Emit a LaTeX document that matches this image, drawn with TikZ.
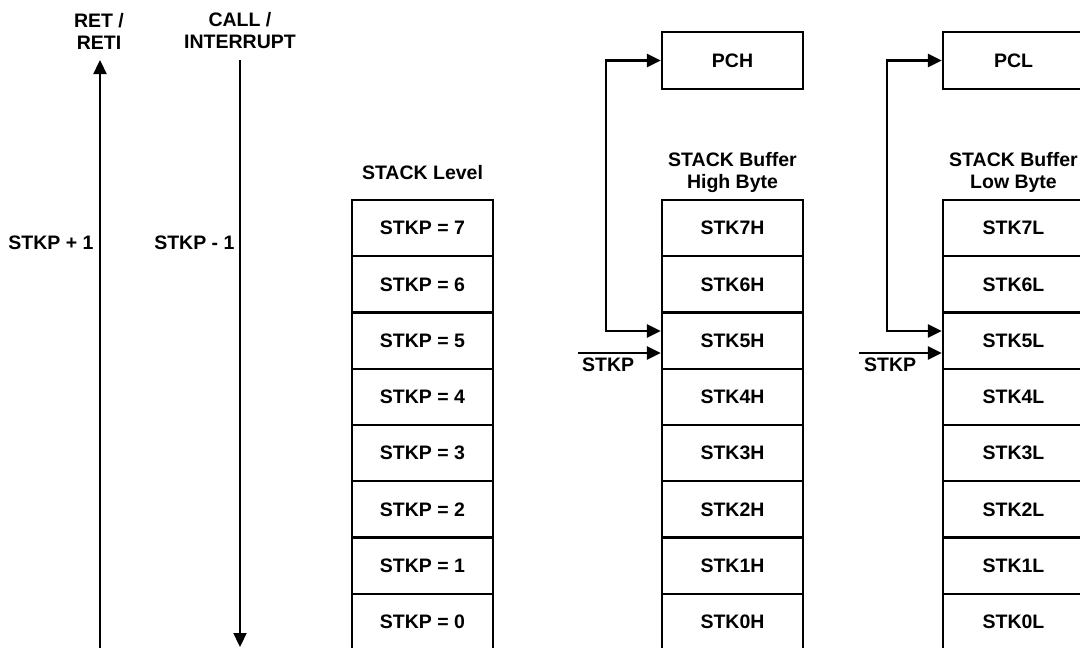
\documentclass[tikz,border=0pt]{standalone}
\usepackage{fontspec}
\setmainfont{Liberation Sans}
\usetikzlibrary{positioning, calc, arrows.meta}

\tikzset{
  cell/.style={draw, line width=2.3pt, minimum width=141pt, minimum height=56.25pt, inner sep=0pt},
  title/.style={align=center},
  tip/.style={line width=2.3pt, -{Triangle[length=14pt, width=13pt]}},
  tips/.style={line width=2.3pt, {Triangle[length=14pt, width=13pt]}-{Triangle[length=14pt, width=13pt]}},
}

\begin{document}
\begin{tikzpicture}[x=1pt, y=-1pt, font=\fontsize{19.5}{22}\selectfont\bfseries]

\useasboundingbox (0, 0) rectangle (1080, 648);
\clip (0, 0) rectangle (1080, 648);

% pop / push direction
\node[title] (retlbl) at (99, 31) {RET /\\RETI};
\node[title] (calllbl) at (240, 31) {CALL /\\INTERRUPT};
\coordinate (retbot) at (100, 660);
\coordinate (rettop) at (100, 60);
\coordinate (calltop) at (240, 60);
\coordinate (callbot) at (240, 647);
\draw [tip] (retbot) -- (rettop);
\draw [tip] (calltop) -- (callbot);
\node[anchor=east] (inc) at (97, 243) {STKP + 1};
\node[anchor=east] (dec) at (238, 243) {STKP - 1};

% columns
\node[title] (lvtitle) at (422.5, 173) {STACK Level};
\node[title] (hititle) at (732.5, 172) {STACK Buffer\\High Byte};
\node[title] (lotitle) at (1013.5, 172) {STACK Buffer\\Low Byte};

\foreach \i in {0,...,7} {
  \node[cell] (lv\i) at (422.5, {228.125 + (7-\i)*56.25}) {STKP = \i};
  \node[cell] (hi\i) at (732.5, {228.125 + (7-\i)*56.25}) {STK\i H};
  \node[cell] (lo\i) at (1013.5, {228.125 + (7-\i)*56.25}) {STK\i L};
}

\node[cell, minimum height=57pt] (pch) at (732.5, 60.5) {PCH};
\node[cell, minimum height=57pt] (pcl) at (1013.5, 60.5) {PCL};

% high byte
\coordinate (hiloop) at (606, 331);
\coordinate (histkp) at (578, 353);
\draw [tips] (hiloop -| hi5.west) -- (hiloop) |- (pch.west);
\draw [tip] (histkp) -- (histkp -| hi5.west);
\node[anchor=north west, inner sep=0pt] (hiptr) at (582, 358) {STKP};

% low byte
\coordinate (loloop) at (887, 331);
\coordinate (lostkp) at (859, 353);
\draw [tips] (loloop -| lo5.west) -- (loloop) |- (pcl.west);
\draw [tip] (lostkp) -- (lostkp -| lo5.west);
\node[anchor=north west, inner sep=0pt] (loptr) at (864, 358) {STKP};

\end{tikzpicture}
\end{document}
